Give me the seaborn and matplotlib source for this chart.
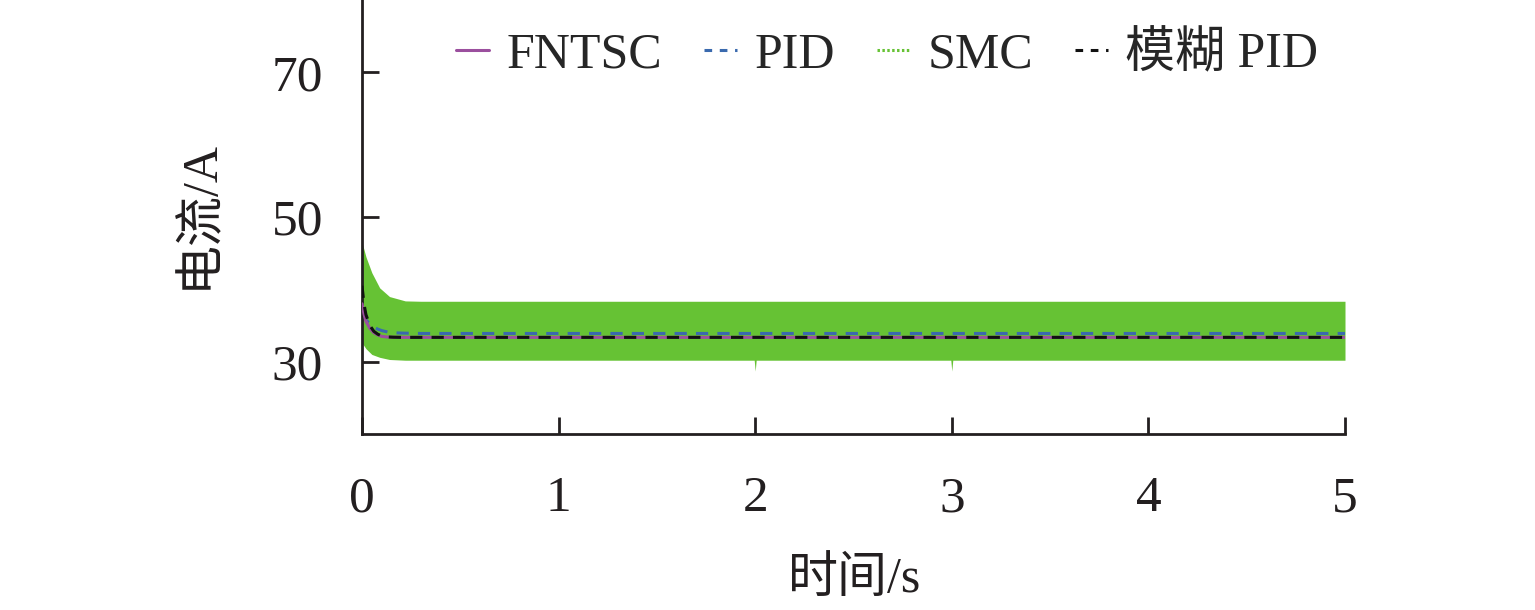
import numpy as np
import pandas as pd
import matplotlib
matplotlib.use("Agg")
import matplotlib.pyplot as plt
import seaborn as sns
from matplotlib.lines import Line2D

# ---- data ----
t_lines = [0.0, 0.01, 0.02, 0.04, 0.06, 0.08, 0.10, 0.13, 0.16, 0.20, 0.30, 1.0, 2.0, 3.0, 4.0, 5.0]
fntsc = [38.0, 36.6, 35.6, 34.6, 34.0, 33.7, 33.5, 33.4, 33.38, 33.36, 33.36, 33.36, 33.36, 33.36, 33.36, 33.36]
pid = [36.8, 36.2, 35.8, 35.2, 34.8, 34.5, 34.3, 34.1, 34.0, 33.95, 33.9, 33.9, 33.9, 33.9, 33.9, 33.9]
fuzzy_pid = [40.5, 38.0, 36.5, 35.0, 34.2, 33.8, 33.55, 33.42, 33.38, 33.36, 33.36, 33.36, 33.36, 33.36, 33.36, 33.36]

t_smc = [0.0, 0.02, 0.05, 0.09, 0.14, 0.22, 0.30, 1.0, 1.995, 2.0, 2.005, 2.995, 3.0, 3.005, 4.0, 5.0]
smc_upper = [46.5, 44.5, 42.3, 40.2, 39.0, 38.4, 38.35, 38.35, 38.35, 38.35, 38.35, 38.35, 38.35, 38.35, 38.35, 38.35]
smc_lower = [32.6, 31.8, 31.0, 30.6, 30.3, 30.2, 30.2, 30.2, 30.2, 28.7, 30.2, 30.2, 28.7, 30.2, 30.2, 30.2]

labels = ["FNTSC", "PID", "SMC", "模糊 PID"]
colors = {"FNTSC": "#9b4f9e", "PID": "#3a6aae", "SMC": "#66c234", "模糊 PID": "#111111"}
xticks = [0, 1, 2, 3, 4, 5]
yticks = [30, 50, 70]

sns.set_theme(style="ticks")
plt.rcParams["font.family"] = ["Liberation Serif", "Noto Sans CJK SC"]
plt.rcParams["axes.linewidth"] = 2.0

fig = plt.figure(figsize=(15.35, 6.10), dpi=100)
ax = fig.add_axes([362 / 1535, 1 - 434 / 610, (1345 - 362) / 1535, 434 / 610])

# SMC chattering band
ax.fill_between(t_smc, smc_lower, smc_upper, color=colors["SMC"], linewidth=0, zorder=1)

df = pd.DataFrame({"t": t_lines, "FNTSC": fntsc, "PID": pid, "模糊 PID": fuzzy_pid})
sns.lineplot(data=df, x="t", y="FNTSC", ax=ax, color=colors["FNTSC"], linewidth=2.2, zorder=3)
sns.lineplot(data=df, x="t", y="PID", ax=ax, color=colors["PID"], linewidth=2.2, linestyle=(0, (4, 3)), zorder=2)
sns.lineplot(data=df, x="t", y="模糊 PID", ax=ax, color=colors["模糊 PID"], linewidth=2.2, linestyle=(0, (4, 3)), zorder=4)

handles = [
    Line2D([], [], color=colors["FNTSC"], lw=2.2),
    Line2D([], [], color=colors["PID"], lw=2.2, linestyle=(0, (2.5, 2.5))),
    Line2D([], [], color=colors["SMC"], lw=2.2, linestyle=(0, (0.8, 0.8))),
    Line2D([], [], color=colors["模糊 PID"], lw=2.2, linestyle=(0, (2.5, 2.5))),
]
ax.legend(handles, labels, ncol=4, frameon=False, loc="upper left",
          bbox_to_anchor=(0.05, 1.03), fontsize=36, handlelength=0.65,
          handletextpad=0.35, columnspacing=0.85)

ax.set_xlim(0, 5)
ax.set_ylim(20, 80)
ax.set_xticks(xticks)
ax.set_yticks(yticks)
ax.tick_params(direction="in", length=12, width=2.0, labelsize=37, color="#231f20", labelcolor="#231f20")
ax.tick_params(axis="x", pad=30)
ax.tick_params(axis="y", pad=28)
for s in ["top", "right"]:
    ax.spines[s].set_visible(False)
for s in ["left", "bottom"]:
    ax.spines[s].set_color("#231f20")

ax.set_xlabel("时间/s", fontsize=36, color="#231f20")
ax.set_ylabel("电流/A", fontsize=36, color="#231f20")
ax.xaxis.set_label_coords(0.5015, -0.283)
ax.yaxis.set_label_coords(-0.141, 0.508)

fig.savefig("out.png", dpi=100)
